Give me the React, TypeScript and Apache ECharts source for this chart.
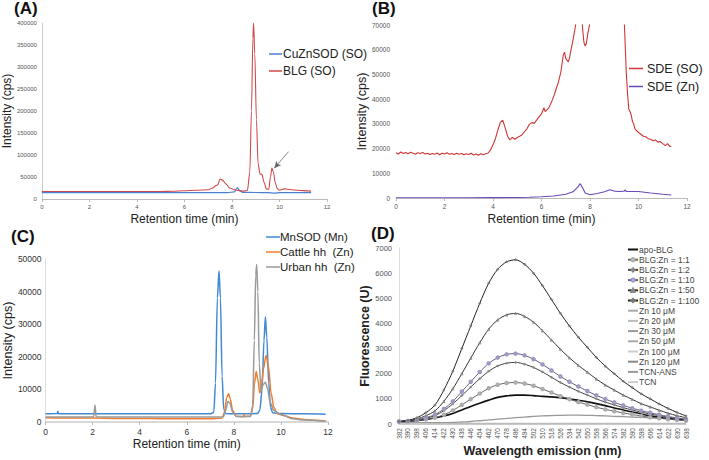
import React, { useEffect, useRef } from "react";
import * as echarts from "echarts";

// ---------- Panel A ----------
const cuZnSOD: [number, number][] = [
  [0, 14500], [1, 14600], [2, 14400], [3, 14500], [4, 14500], [5, 14400], [6, 14500], [7, 14500],
  [7.8, 14600], [8.1, 16000], [8.22, 26000], [8.32, 19000], [8.45, 15000], [9, 14800], [9.5, 14500],
  [9.8, 13500], [10, 14600], [10.5, 14600], [11, 14500], [11.33, 14500],
];
const blgSO: [number, number][] = [
  [0, 17000], [1, 17200], [2, 16900], [3, 17000], [4, 17100], [5, 17000], [5.5, 17500], [6, 18800],
  [6.5, 19800], [7, 21000], [7.2, 25000], [7.32, 30500], [7.4, 32000], [7.5, 45500], [7.6, 43000],
  [7.75, 34000], [7.9, 25000], [8.1, 21000], [8.3, 19000], [8.5, 18000], [8.65, 19500], [8.75, 60000],
  [8.82, 200000], [8.88, 365000], [8.91, 400000], [8.96, 330000], [9.03, 180000], [9.1, 80000],
  [9.18, 57000], [9.26, 56000], [9.35, 38000], [9.45, 23000], [9.55, 22000], [9.62, 50000],
  [9.68, 70500], [9.74, 62000], [9.82, 38000], [9.9, 24000], [10, 20000], [10.2, 23000],
  [10.5, 21000], [11, 19000], [11.33, 18000],
];
const arrowA: [number, number][] = [[10.38, 107500], [9.78, 70000]];

// ---------- Panel B ----------
const sdeSO: [number, number][] = [
  [0, 18300], [0.1, 17800], [0.2, 18600], [0.3, 18000], [0.4, 18400], [0.5, 17900], [0.6, 18500],
  [0.7, 18100], [0.8, 17700], [0.9, 18300], [1.0, 18000], [1.1, 18400], [1.2, 17800], [1.3, 18100],
  [1.4, 17600], [1.5, 18000], [1.6, 17700], [1.7, 18200], [1.8, 17500], [1.9, 18100], [2.0, 17800],
  [2.1, 18300], [2.2, 17700], [2.3, 18000], [2.4, 17600], [2.5, 18100], [2.6, 17700], [2.7, 18000],
  [2.8, 17500], [2.9, 17900], [3.0, 17600], [3.1, 18100], [3.2, 17400], [3.3, 17800], [3.4, 17300],
  [3.5, 17900], [3.6, 17500], [3.7, 17900], [3.8, 18200], [3.9, 19500], [4.0, 21500], [4.1, 24000],
  [4.2, 27500], [4.3, 30500], [4.4, 31500], [4.5, 28500], [4.6, 25000], [4.7, 23500], [4.8, 24500],
  [4.9, 23800], [5.0, 24500], [5.1, 25000], [5.2, 25600], [5.3, 26800], [5.4, 28000], [5.5, 29800],
  [5.6, 30500], [5.7, 30200], [5.8, 31500], [5.9, 32800], [6.0, 34000], [6.1, 36500], [6.15, 35000],
  [6.2, 35500], [6.3, 36500], [6.4, 38500], [6.5, 41000], [6.6, 44000], [6.7, 47000], [6.8, 51000],
  [6.9, 58000], [6.95, 59000], [7.0, 56500], [7.1, 55000], [7.15, 56500], [7.2, 59000], [7.3, 64000],
  [7.4, 69500], [7.5, 78000], [7.6, 80000], [7.7, 68000], [7.75, 63000], [7.8, 61500], [7.85, 62500],
  [7.9, 66000], [8.0, 71000], [8.2, 90000], [8.5, 150000], [8.9, 300000], [9.2, 150000], [9.4, 75000],
  [9.5, 50000], [9.55, 42000], [9.6, 36000], [9.65, 35000], [9.7, 33500], [9.75, 31000], [9.8, 30000],
  [9.85, 28000], [9.9, 27500], [10.0, 26500], [10.1, 25800], [10.2, 25000], [10.3, 24800],
  [10.4, 24000], [10.5, 23800], [10.6, 23200], [10.7, 23500], [10.8, 22600], [10.9, 22800],
  [11.0, 22000], [11.1, 21200], [11.2, 22000], [11.3, 20800], [11.35, 21000],
];
const sdeZn: [number, number][] = [
  [0, 100], [1, 100], [2, 120], [3, 120], [4, 150], [5, 200], [5.5, 300], [6, 500], [6.5, 800],
  [7, 1500], [7.3, 2500], [7.5, 4500], [7.6, 5800], [7.7, 4000], [7.8, 2000], [8, 1300], [8.3, 1800],
  [8.6, 2500], [8.82, 3300], [9, 2800], [9.2, 2600], [9.42, 2800], [9.45, 3300], [9.5, 2600],
  [10, 2600], [10.5, 2000], [11, 1500], [11.35, 1200],
];

// ---------- Panel C ----------
const mnSOD: [number, number][] = [
  [0, 2500], [0.5, 2600], [0.52, 3300], [0.55, 2500], [1, 2500], [2, 2500], [3, 2500], [4, 2500],
  [5, 2500], [6, 2500], [7, 2500], [7.15, 3000], [7.22, 12000], [7.3, 38000], [7.37, 46400],
  [7.43, 38000], [7.5, 14000], [7.57, 4000], [7.65, 2600], [8, 2500], [8.5, 2500], [9.0, 2600],
  [9.1, 3500], [9.2, 10000], [9.28, 25000], [9.34, 32300], [9.4, 26000], [9.48, 12000], [9.56, 4500],
  [9.65, 2800], [10, 2600], [11, 2500], [11.9, 2400],
];
const cattleHH: [number, number][] = [
  [0, 1300], [1, 1200], [2, 1200], [3, 1100], [4, 1100], [5, 1000], [6, 1000], [7, 1000], [7.5, 1200],
  [7.6, 3000], [7.7, 7500], [7.78, 8700], [7.85, 7000], [7.95, 3500], [8.1, 1800], [8.4, 1600],
  [8.42, 2300], [8.45, 1700], [8.7, 1800], [8.8, 4000], [8.88, 12000], [8.95, 15500], [9.02, 13000],
  [9.1, 9000], [9.15, 9500], [9.25, 16000], [9.37, 20500], [9.47, 17000], [9.58, 9000], [9.7, 4500],
  [9.85, 2500], [10.1, 2000], [10.5, 1200], [11, 800], [11.5, 500], [11.9, 300],
];
const urbanHH: [number, number][] = [
  [0, 1500], [1, 1500], [2, 1500], [2.05, 1800], [2.1, 5200], [2.15, 1600], [3, 1500], [4, 1500],
  [5, 1500], [6, 1500], [7, 1500], [7.55, 1600], [7.65, 3500], [7.75, 6300], [7.83, 5800],
  [7.95, 3000], [8.1, 1700], [8.7, 1700], [8.8, 5000], [8.87, 25000], [8.93, 45000], [8.97, 48400],
  [9.02, 40000], [9.08, 18000], [9.15, 9500], [9.25, 11500], [9.34, 12200], [9.42, 10500],
  [9.55, 6000], [9.7, 3500], [10, 2300], [10.5, 1000], [11, 600], [11.9, 200],
];

// ---------- Panel D ----------
const wavelengths = [
  "382", "390", "398", "406", "414", "422", "430", "438", "446", "454", "462", "470", "478", "486",
  "494", "502", "510", "518", "526", "534", "542", "550", "558", "566", "574", "582", "590", "598",
  "606", "614", "622", "630", "638",
];
const apoBLG = [100, 110, 140, 180, 240, 320, 420, 560, 700, 830, 950, 1060, 1120, 1150, 1150, 1130, 1100, 1080, 1050, 1000, 940, 880, 810, 730, 640, 560, 480, 400, 330, 270, 220, 180, 150];
const blg1_1 = [100, 110, 140, 180, 250, 370, 540, 760, 990, 1210, 1420, 1560, 1630, 1650, 1610, 1520, 1390, 1250, 1110, 990, 870, 770, 670, 580, 510, 440, 380, 320, 270, 230, 190, 160, 130];
const blg1_2 = [100, 115, 160, 230, 330, 530, 800, 1130, 1470, 1800, 2100, 2310, 2420, 2450, 2380, 2250, 2070, 1860, 1650, 1470, 1300, 1150, 1000, 870, 760, 650, 560, 470, 400, 330, 270, 220, 180];
const blg1_10 = [100, 120, 170, 250, 370, 600, 900, 1290, 1680, 2070, 2410, 2640, 2770, 2800, 2730, 2580, 2370, 2130, 1890, 1680, 1490, 1310, 1140, 990, 860, 740, 630, 530, 450, 370, 300, 240, 190];
const blg1_50 = [100, 130, 200, 330, 520, 900, 1400, 2000, 2620, 3230, 3770, 4140, 4340, 4400, 4280, 4050, 3710, 3340, 2970, 2630, 2330, 2060, 1790, 1550, 1350, 1150, 980, 810, 680, 550, 430, 330, 250];
const blg1_100 = [100, 150, 250, 450, 750, 1350, 2100, 3000, 3900, 4800, 5600, 6150, 6450, 6530, 6350, 6000, 5500, 4950, 4400, 3900, 3450, 3050, 2650, 2300, 2000, 1700, 1450, 1200, 1000, 800, 620, 460, 320];
const zn10 = [60, 40, 30, 25, 20, 20, 20, 20, 20, 20, 20, 20, 20, 20, 20, 20, 20, 20, 20, 20, 20, 20, 20, 20, 20, 20, 20, 20, 20, 20, 20, 20, 20];
const zn20 = [50, 35, 25, 20, 15, 15, 15, 15, 15, 15, 15, 15, 15, 15, 15, 15, 15, 15, 15, 15, 15, 15, 15, 15, 15, 15, 15, 15, 15, 15, 15, 15, 15];
const zn30 = [70, 45, 35, 30, 25, 25, 25, 25, 25, 25, 25, 25, 25, 25, 25, 25, 25, 25, 25, 25, 25, 25, 25, 25, 25, 25, 25, 25, 25, 25, 25, 25, 25];
const zn50 = [55, 40, 30, 25, 20, 18, 18, 18, 18, 18, 18, 18, 18, 18, 18, 18, 18, 18, 18, 18, 18, 18, 18, 18, 18, 18, 18, 18, 18, 18, 18, 18, 18];
const zn100 = [45, 30, 22, 18, 15, 12, 12, 12, 12, 12, 12, 12, 12, 12, 12, 12, 12, 12, 12, 12, 12, 12, 12, 12, 12, 12, 12, 12, 12, 12, 12, 12, 12];
const zn120 = [65, 45, 32, 26, 22, 20, 20, 20, 20, 20, 20, 20, 20, 20, 20, 20, 20, 20, 20, 20, 20, 20, 20, 20, 20, 20, 20, 20, 20, 20, 20, 20, 20];
const tcnANS = [100, 80, 60, 50, 50, 50, 60, 80, 100, 130, 160, 190, 220, 250, 275, 300, 320, 335, 345, 350, 350, 345, 335, 320, 305, 290, 275, 260, 245, 230, 215, 200, 185];
const tcn = [40, 30, 20, 15, 10, 10, 10, 10, 10, 10, 10, 10, 10, 10, 10, 10, 10, 10, 10, 10, 10, 10, 10, 10, 10, 10, 10, 10, 10, 10, 10, 10, 10];

const FONT = "'Liberation Sans', Arial, sans-serif";
const plain = (v: number) => String(v);

function retentionX(gridIndex: number, labelSize: number, labelColor: string, nameGap: number) {
  return {
    type: "value", gridIndex, min: 0, max: 12, interval: 2,
    name: "Retention time (min)", nameLocation: "middle", nameGap,
    nameTextStyle: { fontSize: 12, color: "#222", fontFamily: FONT },
    axisLine: { show: true, onZero: false, lineStyle: { color: "#bbb" } },
    axisTick: { show: true, length: 3, lineStyle: { color: "#bbb" } },
    axisLabel: { fontSize: labelSize, color: labelColor, margin: 5, formatter: plain },
    splitLine: { show: false },
  };
}

function lineSeries(name: string, data: any, color: string, axis: number, width = 1.2, smooth: any = 0.3) {
  return {
    type: "line", name, data, xAxisIndex: axis, yAxisIndex: axis, showSymbol: false, symbol: "none",
    smooth, smoothMonotone: "x", lineStyle: { color, width }, itemStyle: { color }, clip: true,
  };
}

function dSeries(name: string, data: number[], color: string, symbol: string, width = 1, symbolColor?: string) {
  const hasSym = symbol !== "none";
  return {
    type: "line", name, data, xAxisIndex: 3, yAxisIndex: 3, smooth: 0.3,
    symbol, showSymbol: hasSym, symbolSize: 2.5,
    lineStyle: { color, width }, itemStyle: { color: symbolColor || color, borderColor: symbolColor || color, borderWidth: 0.6 },
  };
}

export default function App() {
  const ref = useRef<HTMLDivElement>(null);
  useEffect(() => {
    document.body.style.margin = "0";
    const chart = echarts.init(ref.current!, null, { renderer: "svg" });
    const titleStyle = { fontSize: 17, fontWeight: "bold", color: "#111", fontFamily: FONT };
    const option: any = {
      animation: false,
      backgroundColor: "#fff",
      textStyle: { fontFamily: FONT },
      title: [
        { text: "(A)", left: 14, top: 0, padding: 0, textStyle: titleStyle },
        { text: "(B)", left: 372, top: 0, padding: 0, textStyle: titleStyle },
        { text: "(C)", left: 11, top: 228, padding: 0, textStyle: titleStyle },
        { text: "(D)", left: 371, top: 225, padding: 0, textStyle: titleStyle },
      ],
      grid: [
        { left: 40, top: 23, width: 287, height: 176 },
        { left: 396, top: 25, width: 291, height: 173 },
        { left: 41, top: 259, width: 287, height: 163 },
        { left: 399, top: 248, width: 287, height: 176 },
      ],
      legend: [
        {
          orient: "vertical", left: 264, top: 43, itemGap: 5, icon: "rect", itemWidth: 13, itemHeight: 1.5,
          textStyle: { fontSize: 12, color: "#222", padding: [0, 0, 0, -4] }, data: ["CuZnSOD (SO)", "BLG (SO)"],
        },
        {
          orient: "vertical", left: 624, top: 57, itemGap: 5, icon: "rect", itemWidth: 14, itemHeight: 1.5,
          textStyle: { fontSize: 12.5, color: "#222", padding: [0, 0, 0, -1] }, data: ["SDE (SO)", "SDE (Zn)"],
        },
        {
          orient: "vertical", left: 261, top: 226, itemGap: 3, icon: "rect", itemWidth: 14, itemHeight: 1.5,
          textStyle: { fontSize: 11.5, color: "#222", padding: [0, 0, 0, -5] }, data: ["MnSOD (Mn)", "Cattle hh  (Zn)", "Urban hh  (Zn)"],
        },
        {
          orient: "vertical", left: 622, top: 240, itemGap: 1.2, itemWidth: 10, itemHeight: 4,
          textStyle: { fontSize: 8.5, color: "#444", padding: [0, 0, 0, -4] },
          data: [
            { name: "apo-BLG", icon: "line" },
            "BLG:Zn = 1:1", "BLG:Zn = 1:2", "BLG:Zn = 1:10", "BLG:Zn = 1:50", "BLG:Zn = 1:100",
            { name: "Zn 10 μM", icon: "line" },
            { name: "Zn 20 μM", icon: "line" },
            { name: "Zn 30 μM", icon: "line" },
            { name: "Zn 50 μM", icon: "line" },
            { name: "Zn 100 μM", icon: "line" },
            { name: "Zn 120 μM", icon: "line" },
            { name: "TCN-ANS", icon: "line" },
            { name: "TCN", icon: "line" },
          ],
        },
      ],
      xAxis: [
        retentionX(0, 6, "#555", 14),
        retentionX(1, 6.5, "#555", 15),
        { ...retentionX(2, 8.5, "#333", 16), axisLine: { show: true, onZero: false, lineStyle: { color: "#ccc", width: 1.5 } } },
        {
          type: "category", gridIndex: 3, data: wavelengths, boundaryGap: false,
          name: "Wavelength emission (nm)", nameLocation: "middle", nameGap: 20,
          nameTextStyle: { fontSize: 12.5, fontWeight: "bold", color: "#222" },
          axisLine: { lineStyle: { color: "#ccc" } },
          axisTick: { show: false },
          axisLabel: { rotate: 90, interval: 0, fontSize: 6.5, color: "#555", margin: 4 },
        },
      ],
      yAxis: [
        {
          type: "value", gridIndex: 0, min: 0, max: 400000, interval: 50000,
          name: "Intensity (cps)", nameLocation: "middle", nameGap: 28, nameRotate: 90,
          nameTextStyle: { fontSize: 12, color: "#222" },
          axisLine: { show: true, lineStyle: { color: "#ccc" } }, axisTick: { show: false },
          axisLabel: { fontSize: 6, color: "#555", margin: 5, formatter: plain }, splitLine: { show: false },
        },
        {
          type: "value", gridIndex: 1, min: 0, max: 70000, interval: 10000,
          name: "Intensity (cps)", nameLocation: "middle", nameGap: 27, nameRotate: 90,
          nameTextStyle: { fontSize: 12.5, color: "#222" },
          axisLine: { show: false }, axisTick: { show: false },
          axisLabel: { fontSize: 6.5, color: "#555", margin: 6, formatter: plain }, splitLine: { show: false },
        },
        {
          type: "value", gridIndex: 2, min: 0, max: 50000, interval: 10000,
          name: "Intensity (cps)", nameLocation: "middle", nameGap: 29, nameRotate: 90,
          nameTextStyle: { fontSize: 12.5, color: "#222" },
          axisLine: { show: true, lineStyle: { color: "#ddd" } }, axisTick: { show: false },
          axisLabel: { fontSize: 8.5, color: "#333", margin: 4, formatter: plain }, splitLine: { show: false },
        },
        {
          type: "value", gridIndex: 3, min: 0, max: 7000, interval: 1000,
          name: "Fluorescence (U)", nameLocation: "middle", nameGap: 27, nameRotate: 90,
          nameTextStyle: { fontSize: 12.5, fontWeight: "bold", color: "#222" },
          axisLine: { show: true, lineStyle: { color: "#ddd" } }, axisTick: { show: false },
          axisLabel: { fontSize: 7.5, color: "#555", margin: 7, formatter: plain }, splitLine: { show: false },
        },
      ],
      series: [
        lineSeries("CuZnSOD (SO)", cuZnSOD, "#4a7fd0", 0, 1.2),
        {
          ...lineSeries("BLG (SO)", blgSO, "#d0494a", 0, 1.1),
          markLine: {
            silent: true, symbol: ["none", "arrow"], symbolSize: [5, 7],
            lineStyle: { color: "#666", width: 0.8, type: "solid" }, label: { show: false },
            data: [[{ coord: arrowA[0] }, { coord: arrowA[1] }]],
          },
        },
        lineSeries("SDE (SO)", sdeSO, "#cf3535", 1, 1.1, false),
        lineSeries("SDE (Zn)", sdeZn, "#6a4bb5", 1, 1.1, false),
        lineSeries("MnSOD (Mn)", mnSOD, "#3f8ad8", 2, 1.5),
        lineSeries("Cattle hh  (Zn)", cattleHH, "#f07c30", 2, 1.5),
        lineSeries("Urban hh  (Zn)", urbanHH, "#9a9a9a", 2, 1.5),
        dSeries("Zn 10 μM", zn10, "#aaa", "none"),
        dSeries("Zn 20 μM", zn20, "#bbb", "none"),
        dSeries("Zn 30 μM", zn30, "#999", "none"),
        dSeries("Zn 50 μM", zn50, "#aaa", "none"),
        dSeries("Zn 100 μM", zn100, "#ccc", "none"),
        dSeries("Zn 120 μM", zn120, "#888", "none"),
        dSeries("TCN-ANS", tcnANS, "#999", "none", 1.3),
        dSeries("TCN", tcn, "#ccc", "none"),
        dSeries("apo-BLG", apoBLG, "#111", "none", 1.6),
        dSeries("BLG:Zn = 1:1", blg1_1, "#666", "emptyCircle", 1, "#aaa"),
        dSeries("BLG:Zn = 1:2", blg1_2, "#444", "diamond", 1, "#888"),
        dSeries("BLG:Zn = 1:10", blg1_10, "#5e5e80", "emptyCircle", 1, "#9a96c0"),
        dSeries("BLG:Zn = 1:50", blg1_50, "#333", "triangle", 1, "#888"),
        dSeries("BLG:Zn = 1:100", blg1_100, "#222", "diamond", 1, "#777"),
      ],
    };
    chart.setOption(option);
    return () => chart.dispose();
  }, []);
  return <div ref={ref} style={{ position: "absolute", left: 0, top: 0, width: 709, height: 460 }} />;
}
